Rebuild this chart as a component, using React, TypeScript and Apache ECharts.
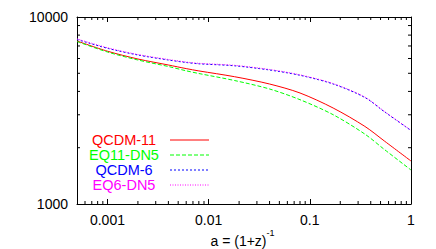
import React, { useEffect, useRef } from "react";
import * as echarts from "echarts";

const aValues = [0.0005, 0.001, 0.002, 0.004, 0.006, 0.008, 0.018, 0.04, 0.08, 0.17, 0.35, 0.55, 1];
const qcdm11 = [7442, 6563, 5962, 5538, 5297, 5149, 4795, 4382, 3923, 3261, 2600, 2165, 1698];
const eq11dn5 = [7396, 6499, 5889, 5436, 5156, 4987, 4575, 4121, 3612, 3003, 2365, 1950, 1520];
const qcdm6 = [7580, 6802, 6263, 5889, 5711, 5620, 5483, 5207, 4878, 4382, 3711, 3104, 2472];
const eq6dn5 = [7640, 6850, 6300, 5925, 5745, 5655, 5515, 5240, 4905, 4405, 3730, 3120, 2480];

const seriesNames = ["QCDM-11", "EQ11-DN5", "QCDM-6", "EQ6-DN5"];
const xMajorTicks = [0.001, 0.01, 0.1, 1];
const xTickLabels = ["0.001", "0.01", "0.1", "1"];
const yMajorTicks = [1000, 10000];
const yTickLabels = ["1000", "10000"];
const xMinorTicks = [
  0.0006, 0.0007, 0.0008, 0.0009,
  0.002, 0.003, 0.004, 0.005, 0.006, 0.007, 0.008, 0.009,
  0.02, 0.03, 0.04, 0.05, 0.06, 0.07, 0.08, 0.09,
  0.2, 0.3, 0.4, 0.5, 0.6, 0.7, 0.8, 0.9,
];
const yMinorTicks = [2000, 3000, 4000, 5000, 6000, 7000, 8000, 9000];

const X_MIN = 0.0005;
const X_MAX = 1;
const Y_MIN = 1000;
const Y_MAX = 10000;

const FONT = '"Liberation Sans", Arial, Helvetica, sans-serif';
const colors = ["#ff0000", "#00ff00", "#0000ff", "#ff00ff"];
const dashes: (number[] | null)[] = [null, [4, 2], [2, 2], [1, 1.5]];
const seriesData = [qcdm11, eq11dn5, qcdm6, eq6dn5];

function labelFor(v: number, ticks: number[], labels: string[]) {
  const i = ticks.findIndex((t) => Math.abs(Math.log10(t) - Math.log10(v)) < 1e-6);
  return i >= 0 ? labels[i] : "";
}

export default function App() {
  const ref = useRef<HTMLDivElement>(null);
  useEffect(() => {
    if (!ref.current) return;
    const chart = echarts.init(ref.current, undefined, { renderer: "svg" });
    const tickStyle = { lineStyle: { color: "#000", width: 1 } };
    const axisLine = { show: true, lineStyle: { color: "#000", width: 1 } };
    const option: any = {
      animation: false,
      backgroundColor: "#fff",
      grid: {
        left: 77,
        top: 17,
        right: 25,
        bottom: 45,
        containLabel: false,
        outerBoundsMode: "none",
      },
      xAxis: [
        {
          type: "log",
          logBase: 10,
          min: X_MIN,
          max: X_MAX,
          position: "bottom",
          axisLine,
          axisTick: { show: true, inside: true, length: 5, ...tickStyle },
          splitLine: { show: false },
          axisLabel: {
            show: true,
            margin: 9,
            color: "#000",
            fontSize: 14,
            fontFamily: FONT,
            showMinLabel: false,
            formatter: (v: number) => labelFor(v, xMajorTicks, xTickLabels),
          },
          name: "{m|a = (1+z)}{s|-1}",
          nameLocation: "middle",
          nameGap: 24,
          nameMoveOverlap: false,
          nameTextStyle: {
            color: "#000",
            fontFamily: FONT,
            padding: [0, 3, 0, 0],
            rich: {
              m: { fontSize: 14, lineHeight: 20, verticalAlign: "bottom", fontFamily: FONT, color: "#000" },
              s: { fontSize: 9, lineHeight: 9, verticalAlign: "top", fontFamily: FONT, color: "#000" },
            },
          },
        },
        {
          type: "log",
          logBase: 10,
          min: X_MIN,
          max: X_MAX,
          position: "top",
          axisLine,
          axisTick: { show: true, inside: true, length: 5, ...tickStyle },
          splitLine: { show: false },
          axisLabel: { show: false },
        },
      ],
      yAxis: [
        {
          type: "log",
          logBase: 10,
          min: Y_MIN,
          max: Y_MAX,
          position: "left",
          axisLine,
          axisTick: { show: true, inside: true, length: 5, ...tickStyle },
          splitLine: { show: false },
          axisLabel: {
            show: true,
            margin: 9,
            color: "#000",
            fontSize: 14,
            fontFamily: FONT,
            formatter: (v: number) => labelFor(v, yMajorTicks, yTickLabels),
          },
        },
        {
          type: "log",
          logBase: 10,
          min: Y_MIN,
          max: Y_MAX,
          position: "right",
          axisLine,
          axisTick: { show: true, inside: true, length: 5, ...tickStyle },
          splitLine: { show: false },
          axisLabel: { show: false },
        },
      ],
      series: [
        ...seriesNames.map((name, i) => ({
          name,
          type: "line",
          xAxisIndex: 0,
          yAxisIndex: 0,
          data: aValues.map((a, j) => [a, seriesData[i][j]]),
          symbol: "none",
          showSymbol: false,
          smooth: 0.3,
          lineStyle: { color: colors[i], width: 1, type: dashes[i] ?? "solid" },
          z: 3 + (i === 3 ? 1 : 0),
        })),
        {
          type: "custom",
          xAxisIndex: 0,
          yAxisIndex: 0,
          clip: false,
          silent: true,
          data: xMinorTicks.map((v) => [v, Y_MIN]),
          encode: { x: 0, y: 1 },
          renderItem: (_p: any, api: any) => {
            const v = api.value(0);
            const pb = api.coord([v, Y_MIN]);
            const pt = api.coord([v, Y_MAX]);
            const st = { stroke: "#000", lineWidth: 1 };
            return {
              type: "group",
              children: [
                { type: "line", shape: { x1: pb[0], y1: pb[1], x2: pb[0], y2: pb[1] - 3 }, style: st },
                { type: "line", shape: { x1: pt[0], y1: pt[1], x2: pt[0], y2: pt[1] + 3 }, style: st },
              ],
            };
          },
        },
        {
          type: "custom",
          xAxisIndex: 0,
          yAxisIndex: 0,
          clip: false,
          silent: true,
          data: yMinorTicks.map((v) => [X_MIN, v]),
          encode: { x: 0, y: 1 },
          renderItem: (_p: any, api: any) => {
            const v = api.value(1);
            const pl = api.coord([X_MIN, v]);
            const pr = api.coord([X_MAX, v]);
            const st = { stroke: "#000", lineWidth: 1 };
            return {
              type: "group",
              children: [
                { type: "line", shape: { x1: pl[0], y1: pl[1], x2: pl[0] + 3, y2: pl[1] }, style: st },
                { type: "line", shape: { x1: pr[0], y1: pr[1], x2: pr[0] - 3, y2: pr[1] }, style: st },
              ],
            };
          },
        },
      ],
      graphic: seriesNames.flatMap((name, i) => [
        {
          type: "text",
          x: 124,
          y: 139.5 + i * 15.1,
          style: {
            text: name,
            fill: colors[i],
            fontSize: 14.5,
            fontFamily: FONT,
            align: "center",
            verticalAlign: "middle",
            textAlign: "center",
            textVerticalAlign: "middle",
          },
        },
        {
          type: "line",
          shape: { x1: 170, y1: 140 + i * 15, x2: 209, y2: 140 + i * 15 },
          style: { stroke: colors[i], lineWidth: 1, lineDash: dashes[i] ?? undefined },
        },
      ]),
    };
    chart.setOption(option);
    return () => chart.dispose();
  }, []);
  return (
    <div
      ref={ref}
      style={{ position: "fixed", left: 0, top: 0, width: 436, height: 249 }}
    />
  );
}
